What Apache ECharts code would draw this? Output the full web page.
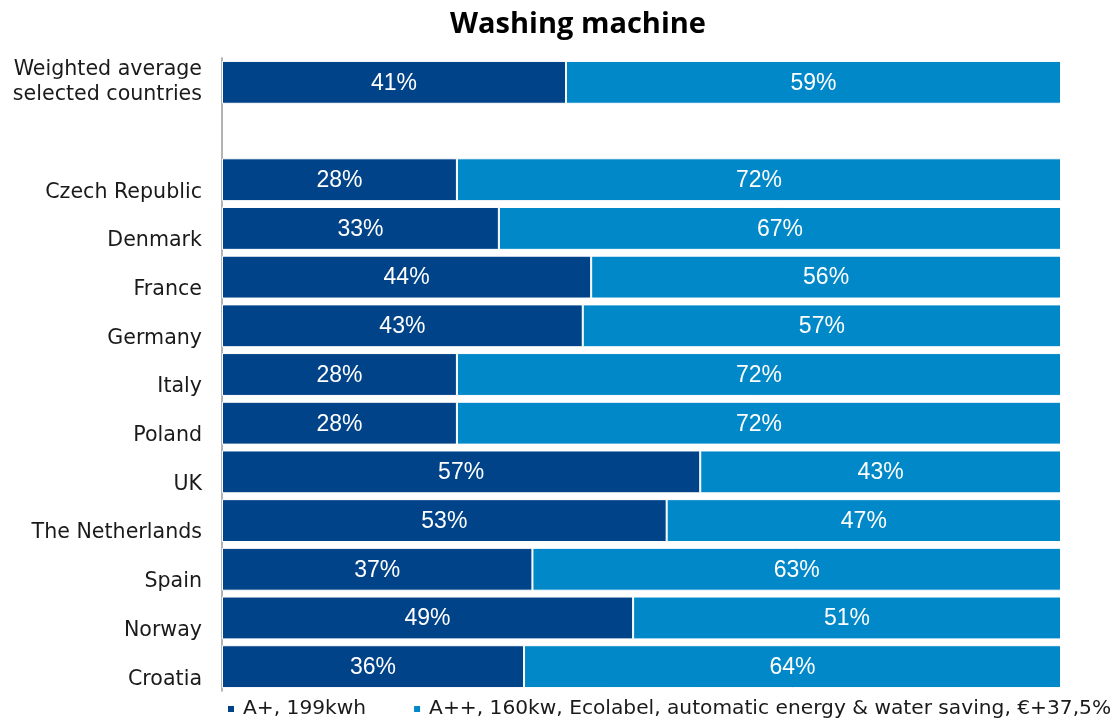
<!DOCTYPE html>
<html>
<head>
<meta charset="utf-8">
<script src="https://cdn.jsdelivr.net/npm/echarts@6/dist/echarts.min.js"></script>
<style>
  html, body { margin: 0; padding: 0; background: #fff; }
  #chart { width: 1120px; height: 722px; }
</style>
</head>
<body>
<div id="chart"></div>
<script>
// Rows from top to bottom; the empty string leaves a spacer row under the average
const categories = [
  'Weighted average\nselected countries', '',
  'Czech Republic', 'Denmark', 'France', 'Germany', 'Italy', 'Poland',
  'UK', 'The Netherlands', 'Spain', 'Norway', 'Croatia'
];
const seriesNames = [
  'A+, 199kwh',
  'A++, 160kw, Ecolabel, automatic energy & water saving, €+37,5%'
];
const aPlusShare     = [41, null, 28, 33, 44, 43, 28, 28, 57, 53, 37, 49, 36];
const aPlusPlusShare = [59, null, 72, 67, 56, 57, 72, 72, 43, 47, 63, 51, 64];

const colors = ['#004388', '#0088C8'];

const chart = echarts.init(document.getElementById('chart'), null, { renderer: 'canvas' });

const barLabel = {
  show: true,
  position: 'inside',
  offset: [0, 1],
  formatter: p => p.value + '%',
  color: '#ffffff',
  fontFamily: "'Liberation Sans', Arial, sans-serif",
  fontSize: 23
};

const labelFont = "'DejaVu Sans', Verdana, sans-serif";
const labelSize = 20.6;

chart.setOption({
  animation: false,
  title: {
    text: 'Washing machine',
    left: 573,
    top: 5,
    textAlign: 'center',
    textStyle: {
      fontFamily: "'Open Sans', Lato, sans-serif",
      fontWeight: 'bold',
      fontSize: 29,
      color: '#000'
    }
  },
  legend: {
    data: seriesNames,
    left: 221,
    top: 694,
    icon: 'rect',
    itemWidth: 8,
    itemHeight: 8,
    itemGap: 46,
    textStyle: {
      fontFamily: labelFont,
      fontSize: 20.2,
      color: '#1a1a1a',
      padding: [0, 0, 0, 3]
    }
  },
  grid: {
    left: 222,
    right: 59,
    top: 58,
    bottom: 31,
    containLabel: false
  },
  xAxis: {
    type: 'value',
    min: 0,
    max: 100,
    show: false
  },
  yAxis: {
    type: 'category',
    data: categories,
    inverse: true,
    axisLine: { show: true, lineStyle: { color: '#9a9a9a', width: 1.5 } },
    axisTick: { show: false },
    splitLine: { show: false },
    axisLabel: {
      margin: 20,
      align: 'right',
      // single-line names sit a little below the bar centre, the two-line one is centred
      formatter: v => (v.indexOf('\n') >= 0 ? '{two|' + v + '}' : '{one|' + v + '}'),
      rich: {
        one: {
          fontFamily: labelFont,
          fontSize: labelSize,
          color: '#1a1a1a',
          padding: [25, 0, 0, 0]
        },
        two: {
          fontFamily: labelFont,
          fontSize: labelSize,
          lineHeight: 25,
          color: '#1a1a1a'
        }
      }
    }
  },
  series: [
    {
      name: seriesNames[0],
      type: 'bar',
      stack: 'share',
      data: aPlusShare,
      barCategoryGap: '12%',
      itemStyle: { color: colors[0], borderColor: '#ffffff', borderWidth: 1 },
      label: barLabel
    },
    {
      name: seriesNames[1],
      type: 'bar',
      stack: 'share',
      data: aPlusPlusShare,
      barCategoryGap: '12%',
      itemStyle: { color: colors[1], borderColor: '#ffffff', borderWidth: 1 },
      label: barLabel
    }
  ]
});
</script>
</body>
</html>
